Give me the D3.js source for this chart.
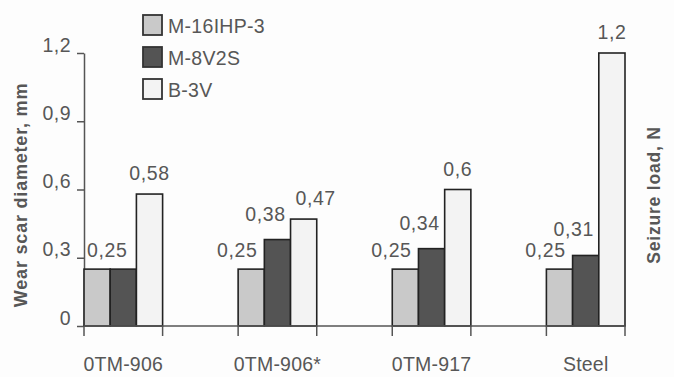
<!DOCTYPE html>
<html><head><meta charset="utf-8">
<script src="https://cdn.jsdelivr.net/npm/d3@7"></script>
<style>
html,body{margin:0;padding:0;background:#fdfdfd;}
svg{display:block;}
text{font-family:"Liberation Sans",Arial,sans-serif;fill:#575757;}
</style></head><body>
<svg id="c" width="674" height="377"></svg>
<script>
const categories = ["0TM-906", "0TM-906*", "0TM-917", "Steel"];
const seriesNames = ["M-16IHP-3", "M-8V2S", "B-3V"];
const m16 = [0.25, 0.25, 0.25, 0.25];
const m8 = [0.25, 0.38, 0.34, 0.31];
const b3 = [0.58, 0.47, 0.6, 1.2];
const yTicks = [0, 0.3, 0.6, 0.9, 1.2];
const yTickLabels = ["0", "0,3", "0,6", "0,9", "1,2"];
const seriesValues = [m16, m8, b3];
const colors = ["#c9c9c9", "#545454", "#f3f3f3"];

const svg = d3.select("#c");
const fmt = v => String(v).replace(".", ",");
const FS = "19.5px";

const x0 = d3.scaleBand().domain(categories).range([84, 625]).paddingInner(0.49).paddingOuter(0);
const x1 = d3.scaleBand().domain(d3.range(3)).range([0, x0.bandwidth()]).padding(0);
const y = d3.scaleLinear().domain([0, 1.2]).range([326, 53]);

// Y axis
const yAxis = d3.axisLeft(y).tickValues(yTicks).tickFormat((d, i) => yTickLabels[i]).tickSize(7).tickSizeOuter(0);
const gy = svg.append("g").attr("transform", "translate(84,0)").call(yAxis);
gy.select(".domain").attr("stroke", "#555").attr("stroke-width", 1.5);
gy.selectAll(".tick line").attr("stroke", "#555").attr("stroke-width", 1.5);
gy.selectAll(".tick text").attr("x", -13).attr("dy", "-0.1em")
  .style("font-size", FS).style("letter-spacing", "0.5px").attr("fill", "#575757");

// bars
const groups = svg.append("g").selectAll("g").data(categories).join("g")
  .attr("transform", d => `translate(${x0(d)},0)`);
groups.selectAll("rect").data((c, ci) => seriesValues.map((s, si) => ({si, v: s[ci]})))
  .join("rect")
  .attr("x", d => x1(d.si))
  .attr("y", d => y(d.v))
  .attr("width", x1.bandwidth())
  .attr("height", d => y(0) - y(d.v))
  .attr("fill", d => colors[d.si])
  .attr("stroke", "#222").attr("stroke-width", 1.6);

// X axis line and group edge ticks
svg.append("line").attr("x1", 84).attr("x2", 625).attr("y1", y(0)).attr("y2", y(0))
  .attr("stroke", "#555").attr("stroke-width", 1.5);
const edges = [];
categories.forEach(c => { edges.push(x0(c)); edges.push(x0(c) + x0.bandwidth()); });
svg.append("g").selectAll("line").data(edges).join("line")
  .attr("x1", d => d).attr("x2", d => d).attr("y1", y(0)).attr("y2", y(0) + 10)
  .attr("stroke", "#555").attr("stroke-width", 1.5);
svg.append("g").selectAll("text").data(categories).join("text")
  .attr("x", d => x0(d) + x0.bandwidth() / 2).attr("y", 371)
  .attr("text-anchor", "middle").style("font-size", FS).style("letter-spacing", "0.2px")
  .text(d => d);

// value labels
const labels = [];
categories.forEach((c, ci) => {
  const gx = x0(c);
  const bw = x1.bandwidth();
  const a = m16[ci], b = m8[ci], w = b3[ci];
  let dy1 = y(b) - 19, dy2 = y(w) - 14;
  if (a === b) {
    labels.push({x: gx + bw - 3, y: y(a) - 12, t: fmt(a)});
  } else {
    labels.push({x: gx + bw / 2 - 14, y: y(a) - 12, t: fmt(a)});
    labels.push({x: gx + bw * 1.5 - 12, y: dy1, t: fmt(b)});
  }
  let wx = gx + bw * 2.5;
  if (a !== b && Math.abs(dy1 - dy2) <= 16) wx += 12;
  labels.push({x: wx, y: dy2, t: fmt(w)});
});
svg.append("g").selectAll("text").data(labels).join("text")
  .attr("x", d => d.x).attr("y", d => d.y).attr("text-anchor", "middle")
  .style("font-size", FS).style("letter-spacing", "0.6px").text(d => d.t);

// axis titles
svg.append("text").attr("transform", "translate(27,195) rotate(-90)")
  .attr("text-anchor", "middle").style("font-size", "18px").style("font-weight", "bold")
  .style("letter-spacing", "0.8px").attr("fill", "#333").text("Wear scar diameter, mm");
svg.append("text").attr("transform", "translate(660,195) rotate(-90)")
  .attr("text-anchor", "middle").style("font-size", "17.5px").style("font-weight", "bold")
  .style("letter-spacing", "0.8px").attr("fill", "#333").text("Seizure load, N");

// legend
const leg = svg.append("g").selectAll("g").data(seriesNames).join("g")
  .attr("transform", (d, i) => `translate(143,${15 + i * 32})`);
leg.append("rect").attr("width", 19).attr("height", 20)
  .attr("fill", (d, i) => colors[i]).attr("stroke", "#333").attr("stroke-width", 1.8);
leg.append("text").attr("x", 25).attr("y", 18).style("font-size", FS)
  .style("letter-spacing", "0.3px").text(d => d);
</script>
</body></html>
